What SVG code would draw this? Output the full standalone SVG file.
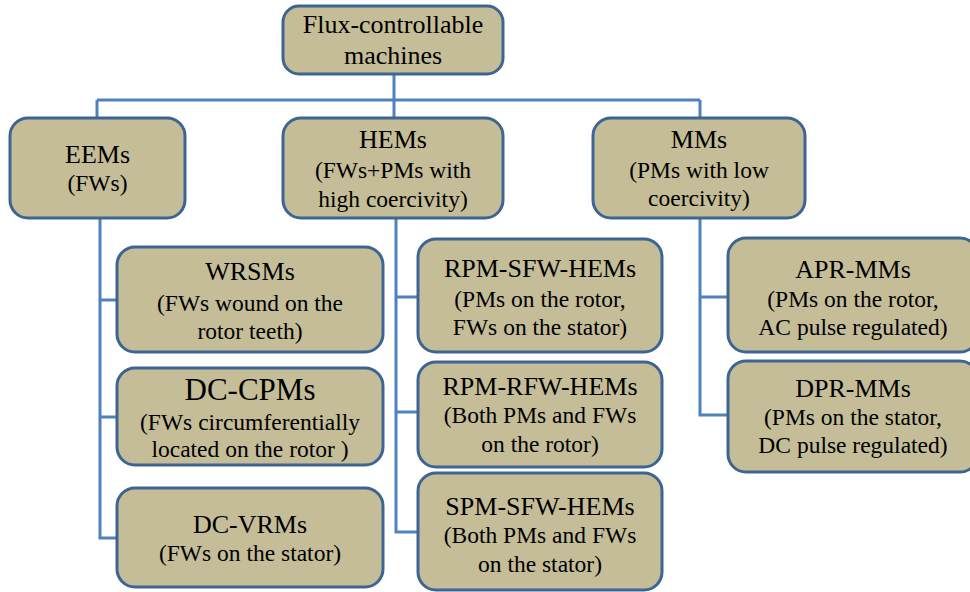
<svg xmlns="http://www.w3.org/2000/svg" width="970" height="592" viewBox="0 0 970 592">
<style>
.box{fill:#C4BD97;stroke:#3C6594;stroke-width:3}
.con{fill:none;stroke:#4F81BD;stroke-width:3}
.lbl text{fill:#000;text-anchor:middle;font-family:'Times New Roman','Liberation Serif',Tinos,'Noto Serif','DejaVu Serif',serif}
.t{font-size:26px}
.s{font-size:23.5px}
.b{font-size:31px}
</style>
<rect width="970" height="592" fill="#fff"/>
<g id="connectors">
<path class="con" d="M394 74V100M97 100H700M97 100V118M394 100V118M700 100V118"/>
<path class="con" d="M100 218V538H117M100 300H117M100 417H117"/>
<path class="con" d="M396 218V532H418M396 297H418M396 412H418"/>
<path class="con" d="M700 218V415H728M700 297H728"/>
</g>
<g class="lbl">
<g id="root">
<rect class="box" x="283" y="6" width="220" height="68" rx="16"/>
<text class="t" x="393" y="33">Flux-controllable</text>
<text class="t" x="393" y="64">machines</text>
</g>
<g id="eems">
<rect class="box" x="10" y="118" width="175" height="100" rx="18"/>
<text class="t" x="97.5" y="163">EEMs</text>
<text class="s" x="97.5" y="191">(FWs)</text>
</g>
<g id="hems">
<rect class="box" x="283" y="118" width="220" height="100" rx="18"/>
<text class="t" x="393" y="148">HEMs</text>
<text class="s" x="393" y="178">(FWs+PMs with</text>
<text class="s" x="393" y="207">high coercivity)</text>
</g>
<g id="mms">
<rect class="box" x="593" y="118" width="212" height="100" rx="18"/>
<text class="t" x="699" y="148">MMs</text>
<text class="s" x="699" y="178">(PMs with low</text>
<text class="s" x="699" y="206">coercivity)</text>
</g>
<g id="wrsms">
<rect class="box" x="117" y="247" width="266" height="105" rx="18"/>
<text class="t" x="250" y="280">WRSMs</text>
<text class="s" x="250" y="311">(FWs wound on the</text>
<text class="s" x="250" y="339">rotor teeth)</text>
</g>
<g id="dccpms">
<rect class="box" x="117" y="368" width="266" height="97" rx="18"/>
<text class="b" x="250" y="400">DC-CPMs</text>
<text class="s" x="250" y="430">(FWs circumferentially</text>
<text class="s" x="250" y="457">located on the rotor )</text>
</g>
<g id="dcvrms">
<rect class="box" x="117" y="488" width="266" height="99" rx="18"/>
<text class="t" x="250" y="533">DC-VRMs</text>
<text class="s" x="250" y="561">(FWs on the stator)</text>
</g>
<g id="rpmsfw">
<rect class="box" x="418" y="239" width="244" height="113" rx="18"/>
<text class="t" x="540" y="277">RPM-SFW-HEMs</text>
<text class="s" x="540" y="307">(PMs on the rotor,</text>
<text class="s" x="540" y="335">FWs on the stator)</text>
</g>
<g id="rpmrfw">
<rect class="box" x="418" y="362" width="244" height="105" rx="18"/>
<text class="t" x="540" y="395">RPM-RFW-HEMs</text>
<text class="s" x="540" y="423">(Both PMs and FWs</text>
<text class="s" x="540" y="452">on the rotor)</text>
</g>
<g id="spmsfw">
<rect class="box" x="418" y="473" width="244" height="117" rx="18"/>
<text class="t" x="540" y="515">SPM-SFW-HEMs</text>
<text class="s" x="540" y="543">(Both PMs and FWs</text>
<text class="s" x="540" y="572">on the stator)</text>
</g>
<g id="aprmms">
<rect class="box" x="728" y="238" width="250" height="114" rx="18"/>
<text class="t" x="853" y="278">APR-MMs</text>
<text class="s" x="853" y="307">(PMs on the rotor,</text>
<text class="s" x="853" y="335">AC pulse regulated)</text>
</g>
<g id="dprmms">
<rect class="box" x="728" y="361" width="250" height="111" rx="18"/>
<text class="t" x="853" y="397">DPR-MMs</text>
<text class="s" x="853" y="425">(PMs on the stator,</text>
<text class="s" x="853" y="453">DC pulse regulated)</text>
</g>
</g>
</svg>
